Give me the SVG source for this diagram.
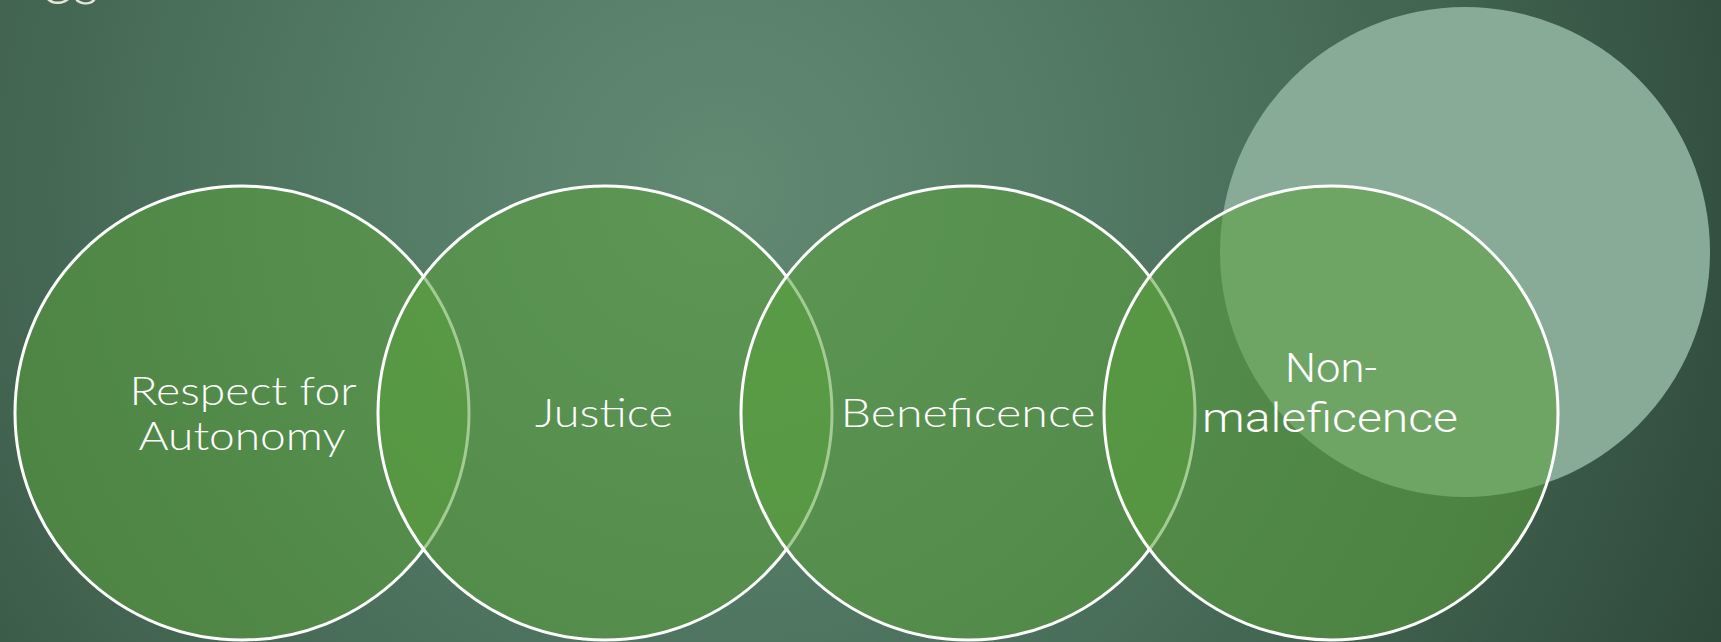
<svg xmlns="http://www.w3.org/2000/svg" width="1721" height="642" viewBox="0 0 1721 642">
<defs>
<radialGradient id="bg" gradientUnits="userSpaceOnUse" cx="720" cy="190" r="1150">
<stop offset="0" stop-color="#628a73"/>
<stop offset="0.35" stop-color="#517863"/>
<stop offset="0.65" stop-color="#41634f"/>
<stop offset="1" stop-color="#2c4538"/>
</radialGradient>
<style>
.c{fill:#5aa03c;fill-opacity:0.55;stroke:#ffffff;stroke-width:3}
.t{font-family:Lato,"Liberation Sans",sans-serif;font-weight:300;font-size:40px;fill:#ffffff;text-anchor:middle}
.a{font-family:Roboto,"Liberation Sans",sans-serif;font-weight:300;font-size:40px;fill:#ffffff;text-anchor:middle}
</style>
</defs>
<rect x="0" y="0" width="1721" height="642" fill="url(#bg)"/>
<text x="100" y="4" font-family="Lato, sans-serif" font-weight="300" font-size="64" fill="#e8e4d8" text-anchor="end">es</text>
<g id="accent">
<circle cx="1465" cy="252" r="245" fill="#88ab98"/>
</g>
<g id="connectors"></g>
<g id="node-autonomy">
<circle class="c" cx="242" cy="413" r="227"/>
<text class="t" x="243" y="405" textLength="227" lengthAdjust="spacingAndGlyphs">Respect for</text>
<text class="t" x="242" y="450" textLength="207" lengthAdjust="spacingAndGlyphs">Autonomy</text>
</g>
<g id="node-justice">
<circle class="c" cx="605" cy="413" r="227"/>
<text class="t" x="604" y="427" textLength="138" lengthAdjust="spacingAndGlyphs">Justice</text>
</g>
<g id="node-beneficence">
<circle class="c" cx="968" cy="413" r="227"/>
<text class="t" x="968" y="427" textLength="255" lengthAdjust="spacingAndGlyphs">Beneficence</text>
</g>
<g id="node-nonmaleficence">
<circle class="c" cx="1331" cy="413" r="227"/>
<text class="a" x="1331" y="382" textLength="92" lengthAdjust="spacingAndGlyphs">Non-</text>
<text class="a" x="1330" y="432" textLength="256" lengthAdjust="spacingAndGlyphs">maleficence</text>
</g>
</svg>
